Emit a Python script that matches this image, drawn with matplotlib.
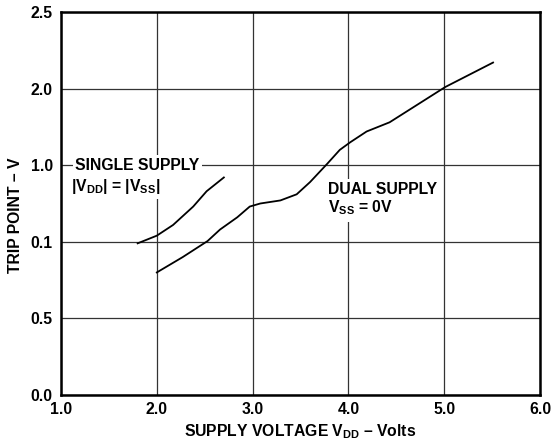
import matplotlib
matplotlib.use("Agg")
import matplotlib.pyplot as plt

plt.rcParams['font.family'] = ['Liberation Sans', 'DejaVu Sans']
plt.rcParams['font.weight'] = 'bold'
plt.rcParams['mathtext.fontset'] = 'custom'
plt.rcParams['mathtext.rm'] = 'Liberation Sans:bold'
plt.rcParams['mathtext.it'] = 'Liberation Sans:bold'
plt.rcParams['mathtext.default'] = 'rm'

# Data
single_x = [1.80, 2.00, 2.17, 2.38, 2.52, 2.70]
single_y = [0.99, 1.04, 1.11, 1.23, 1.33, 1.42]

dual_x = [2.00, 2.27, 2.53, 2.66, 2.84, 2.97, 3.08, 3.29, 3.46, 3.60, 3.78, 3.91, 4.02, 4.19, 4.43, 5.01, 5.51]
dual_y = [0.80, 0.90, 1.005, 1.08, 1.16, 1.23, 1.25, 1.27, 1.31, 1.39, 1.51, 1.60, 1.65, 1.72, 1.78, 2.01, 2.17]

x_ticks = [1.0, 2.0, 3.0, 4.0, 5.0, 6.0]
x_tick_labels = ["1.0", "2.0", "3.0", "4.0", "5.0", "6.0"]
y_ticks = [0.0, 0.5, 1.0, 1.5, 2.0, 2.5]
y_tick_labels = ["0.0", "0.5", "0.1", "1.0", "2.0", "2.5"]

FS = 11.3

fig = plt.figure(figsize=(5.51, 4.43), dpi=100)
ax = fig.add_axes([61/551, 48/443, 479/551, 383/443])

ax.set_xlim(1.0, 6.0)
ax.set_ylim(0.0, 2.5)
ax.set_xticks(x_ticks)
ax.set_xticklabels(x_tick_labels, fontsize=FS, fontweight='bold')
ax.set_yticks(y_ticks)
ax.set_yticklabels(y_tick_labels, fontsize=FS, fontweight='bold')
ax.tick_params(axis='y', length=0, pad=6)
ax.tick_params(axis='x', length=0, pad=5)

ax.grid(True, color='#333333', linewidth=0.9, zorder=1)
ax.set_axisbelow(True)
for s in ax.spines.values():
    s.set_linewidth(1.8)
    s.set_color('black')

ax.plot(single_x, single_y, color='black', linewidth=1.3, zorder=3)
ax.plot(dual_x, dual_y, color='black', linewidth=1.3, zorder=3)

box = dict(facecolor='white', edgecolor='none', pad=2.0)
ax.text(1.15, 1.5, "SINGLE SUPPLY", fontsize=FS, fontweight='bold', ha='left', va='center',
        bbox=box, zorder=4)
ax.text(1.10, 1.36, r"|V$_{DD}$| = |V$_{SS}$|", fontsize=FS, fontweight='bold', ha='left', va='center',
        bbox=box, zorder=4)
ax.text(3.79, 1.275, "DUAL SUPPLY\nV$_{SS}$ = 0V", fontsize=FS, fontweight='bold', ha='left', va='center',
        linespacing=1.05, bbox=dict(facecolor='white', edgecolor='none', pad=4), zorder=4)

ax.set_xlabel(r"SUPPLY VOLTAGE V$_{DD}$ – Volts", fontsize=FS, fontweight='bold', labelpad=4)
ax.set_ylabel("TRIP POINT – V", fontsize=FS, fontweight='bold')
ax.yaxis.set_label_coords(-0.079, 0.47)

fig.savefig("out.png", dpi=100)
